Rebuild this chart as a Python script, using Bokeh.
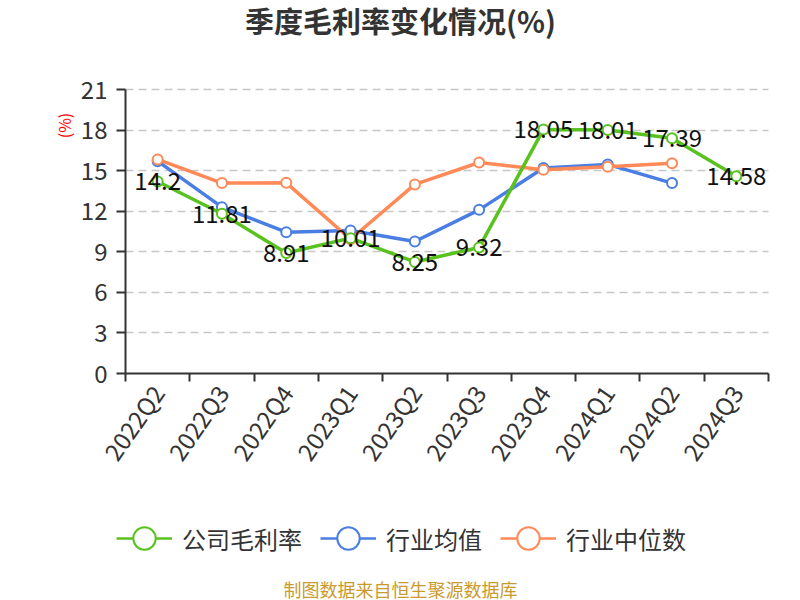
import math
from bokeh.plotting import figure
from bokeh.models import (Range1d, FixedTicker, Label, Legend, LegendItem, ColumnDataSource)
from bokeh.core.properties import value
from bokeh.embed import file_html
from bokeh.resources import INLINE

quarters = ["2022Q2", "2022Q3", "2022Q4", "2023Q1", "2023Q2", "2023Q3", "2023Q4", "2024Q1", "2024Q2", "2024Q3"]
company = [14.2, 11.81, 8.91, 10.01, 8.25, 9.32, 18.05, 18.01, 17.39, 14.58]
industry_mean = [15.7, 12.3, 10.45, 10.58, 9.76, 12.1, 15.2, 15.46, 14.08]
industry_median = [15.83, 14.08, 14.1, 9.93, 13.98, 15.6, 15.07, 15.28, 15.55]
y_ticks = [0, 3, 6, 9, 12, 15, 18, 21]
series_names = ["公司毛利率", "行业均值", "行业中位数"]

GREEN = "#5ac21f"
BLUE = "#4a7ee3"
ORANGE = "#ff8a57"
FONT = "Noto Sans CJK SC"

W, H = 800, 600
# plot-area placement (pixels) within the canvas
L_PX, R_PX, T_PX, B_PX = 125, 768, 89, 373
n = len(quarters)
ymax = y_ticks[-1]
sx = (R_PX - L_PX) / n
sy = (B_PX - T_PX) / ymax
x0 = -L_PX / sx
y0 = -(H - B_PX) / sy

xpos = [i + 0.5 for i in range(n)]

p = figure(width=W, height=H, output_backend="svg", toolbar_location=None, title=None,
           x_range=Range1d(x0, x0 + W / sx), y_range=Range1d(y0, y0 + H / sy),
           min_border=0)
p.outline_line_color = None
p.background_fill_color = "white"
p.border_fill_color = "white"

# axes (drawn at fixed data locations)
p.xaxis.fixed_location = 0
p.xaxis.bounds = (0, n)
p.xaxis.ticker = FixedTicker(ticks=xpos, minor_ticks=list(range(n + 1)))
p.xaxis.major_label_overrides = {x: q for x, q in zip(xpos, quarters)}
p.xaxis.major_tick_line_color = None
p.xaxis.minor_tick_line_color = "#333333"
p.xaxis.minor_tick_line_width = 2
p.xaxis.minor_tick_out = 8
p.xaxis.minor_tick_in = 0
p.xaxis.axis_line_color = "#333333"
p.xaxis.axis_line_width = 2
p.xaxis.major_label_orientation = math.radians(55)
p.xaxis.major_label_text_font = FONT
p.xaxis.major_label_text_font_size = "24px"
p.xaxis.major_label_text_color = "#333333"
p.xaxis.major_label_standoff = 6

p.yaxis.fixed_location = 0
p.yaxis.bounds = (0, ymax)
p.yaxis.ticker = FixedTicker(ticks=y_ticks, minor_ticks=[])
p.yaxis.axis_line_color = "#333333"
p.yaxis.axis_line_width = 2
p.yaxis.major_tick_line_color = "#333333"
p.yaxis.major_tick_line_width = 2
p.yaxis.major_tick_out = 9
p.yaxis.major_tick_in = 0
p.yaxis.minor_tick_line_color = None
p.yaxis.major_label_text_font = FONT
p.yaxis.major_label_text_font_size = "24px"
p.yaxis.major_label_text_color = "#333333"
p.yaxis.major_label_standoff = 9

p.xgrid.grid_line_color = None
p.ygrid.ticker = FixedTicker(ticks=y_ticks[1:])
p.ygrid.cross_bounds = (0, n)
p.ygrid.grid_line_color = "#c8c8c8"
p.ygrid.grid_line_width = 1.5
p.ygrid.grid_line_dash = "8 5"

# series
src_mean = ColumnDataSource(dict(x=xpos[:len(industry_mean)], y=industry_mean))
src_med = ColumnDataSource(dict(x=xpos[:len(industry_median)], y=industry_median))
src_co = ColumnDataSource(dict(x=xpos, y=company, t=[f"{v:g}" for v in company]))

for src, col in [(src_mean, BLUE), (src_med, ORANGE), (src_co, GREEN)]:
    p.line("x", "y", source=src, line_color=col, line_width=3.5)
    p.scatter("x", "y", source=src, size=10, marker="circle", fill_color="white",
              line_color=col, line_width=2)

p.text("x", "y", text="t", source=src_co, text_font=value(FONT), text_font_size="24px",
       text_color="#111111", text_align="center", text_baseline="middle")

# legend (off-screen placeholder renderers for the legend glyphs)
nan = float("nan")
items = []
for name, col in zip(series_names, [GREEN, BLUE, ORANGE]):
    lr = p.line([nan], [nan], line_color=col, line_width=2.5)
    sr = p.scatter([nan], [nan], size=23, marker="circle", fill_color="white", line_color=col, line_width=2)
    items.append(LegendItem(label=name, renderers=[lr, sr]))
legend = Legend(items=items, orientation="horizontal", location=(116, 33),
                glyph_width=56, glyph_height=58, label_height=26, label_standoff=10, spacing=18,
                padding=0, margin=0, border_line_color=None, background_fill_alpha=0,
                label_text_font=FONT, label_text_font_size="24px", label_text_color="#333333")
p.add_layout(legend, "center")

# title, axis label, footer
p.add_layout(Label(x=400, y=H - 19, x_units="screen", y_units="screen", text="季度毛利率变化情况(%)",
                   text_font=FONT, text_font_size="29px", text_font_style="bold",
                   text_color="#333333", text_align="center", text_baseline="middle"))
p.add_layout(Label(x=63, y=H - 125, x_units="screen", y_units="screen", text="(%)", angle=math.pi / 2,
                   text_font=FONT, text_font_size="16px", text_color="#ff0000",
                   text_align="center", text_baseline="middle"))
p.add_layout(Label(x=400, y=H - 588, x_units="screen", y_units="screen", text="制图数据来自恒生聚源数据库",
                   text_font=FONT, text_font_size="18px", text_color="#c99a2e",
                   text_align="center", text_baseline="middle"))

open("out.html", "w").write(file_html(p, INLINE))
